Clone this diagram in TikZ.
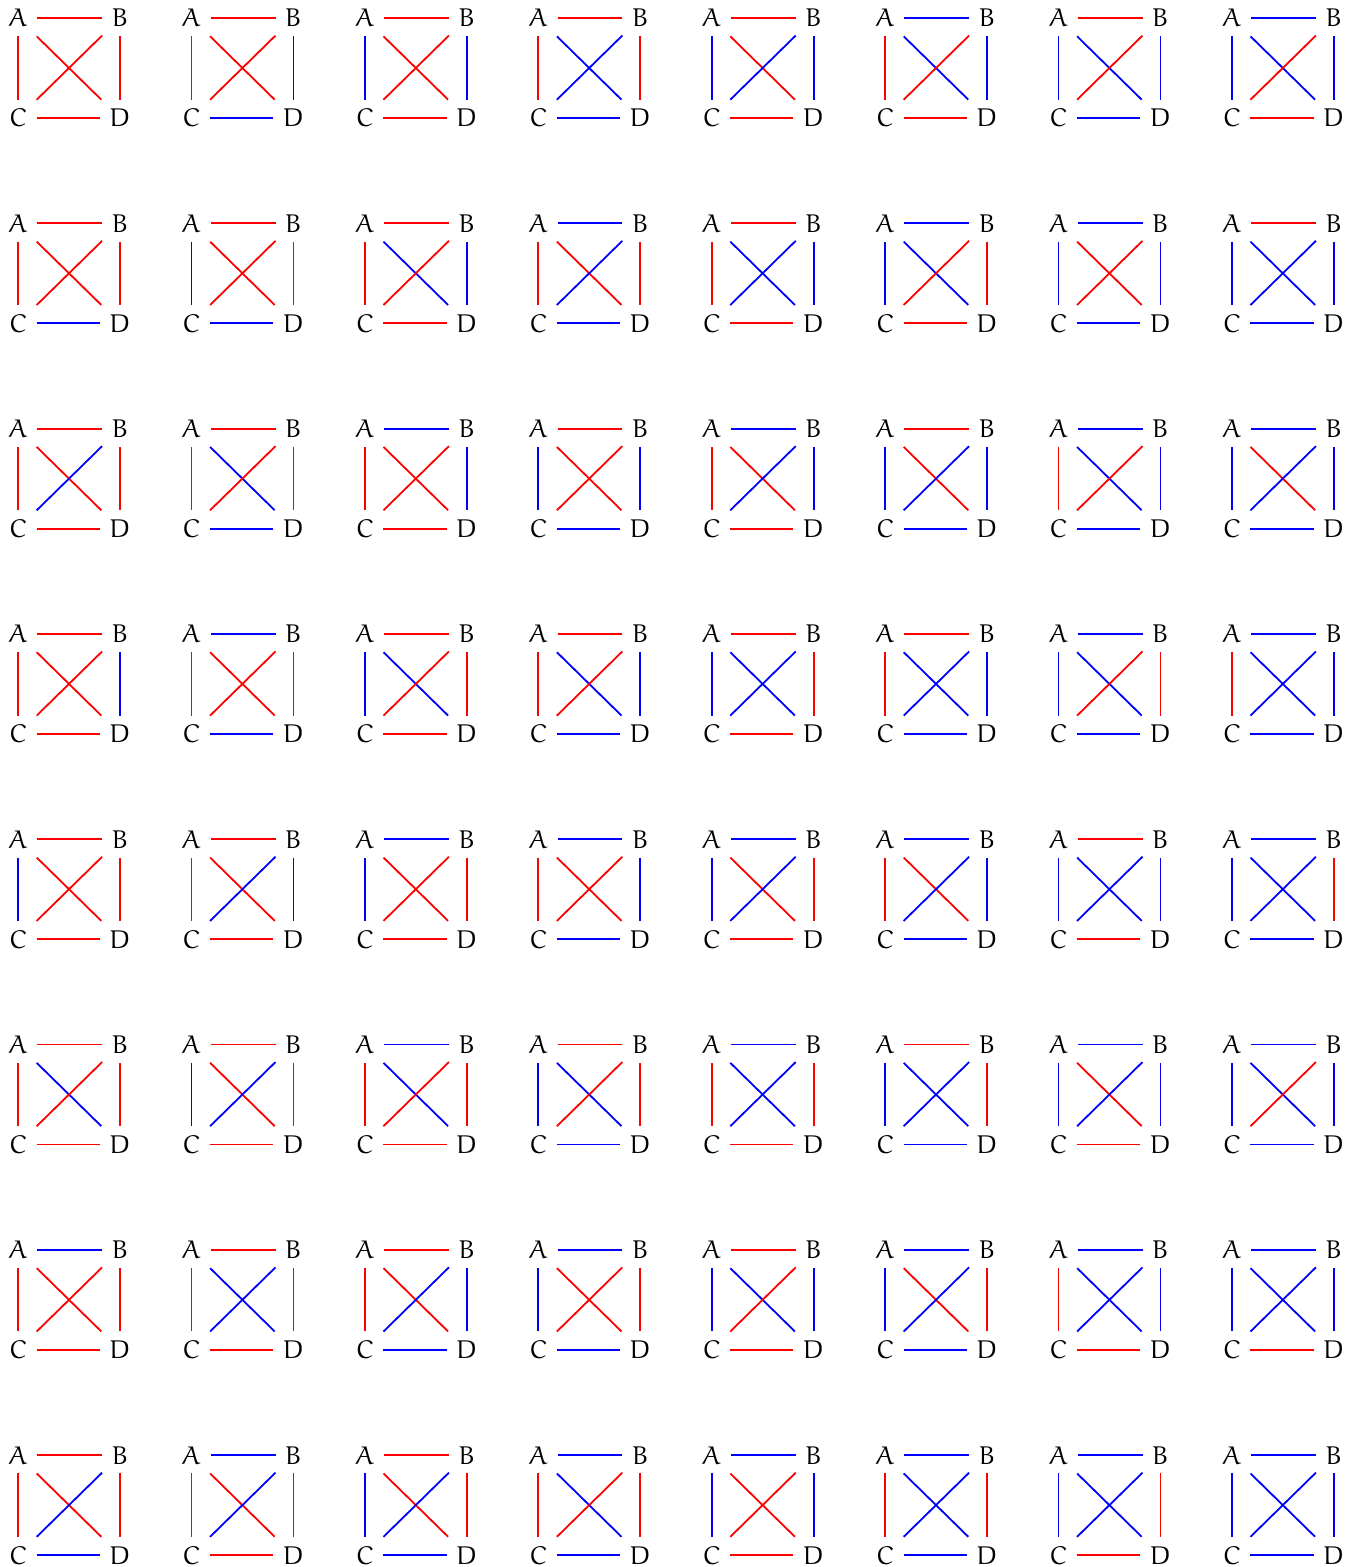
\documentclass[tikz,border=0pt]{standalone}
\usepackage{tikz}

% Euler roman letters for the vertex labels
\font\eulerfnt=eurm10

\tikzset{
  r/.style={red},
  b/.style={blue},
  vertex/.style={font=\eulerfnt}
}

\begin{document}
\begin{tikzpicture}[x=0.389pt,y=-0.389pt,line width=0.7pt]
    % Fix the page size
    \useasboundingbox (0,0) rectangle (1362,1567);

    % All 2-colourings of K4, edges AB/AC/BD/CD/AD/BC
    \foreach \ab/\ac/\bd/\cd/\ad/\bc [count=\i from 0] in {
        r/r/r/r/r/r, r/r/b/b/r/r, r/b/b/r/r/r, r/r/r/b/b/b,
        r/b/b/r/r/b, b/r/b/r/b/r, r/b/b/b/b/r, b/b/b/r/b/r,
        r/r/r/b/r/r, r/b/r/b/r/r, r/r/b/r/b/r, b/r/r/b/r/b,
        r/r/b/r/b/b, b/b/r/r/b/r, b/b/b/b/r/r, r/b/b/b/b/b,
        r/r/r/r/r/b, r/r/r/b/b/r, b/r/b/r/r/r, r/b/b/b/r/r,
        b/r/b/r/r/b, r/b/b/b/r/b, b/r/b/b/b/r, b/b/b/b/r/b,
        r/r/b/r/r/r, b/r/r/b/r/r, r/b/r/r/b/r, r/r/b/b/b/r,
        r/b/r/r/b/b, r/r/b/b/b/b, b/b/r/b/b/r, b/r/b/b/b/b,
        r/b/r/r/r/r, r/r/b/r/r/b, b/b/r/r/r/r, b/r/b/b/r/r,
        b/b/r/r/r/b, b/r/b/b/r/b, r/b/b/r/b/b, b/b/r/b/b/b,
        r/r/r/r/b/r, r/b/r/r/r/b, b/r/r/r/b/r, r/b/r/b/b/r,
        b/r/r/r/b/b, r/b/r/b/b/b, b/b/b/r/r/b, b/b/b/b/b/r,
        b/r/r/r/r/r, r/r/r/r/b/b, r/r/b/b/r/b, b/b/r/b/r/r,
        r/b/b/r/b/r, b/b/r/b/r/b, b/r/b/r/b/b, b/b/b/r/b/b,
        r/r/r/b/r/b, b/r/r/r/r/b, r/b/r/b/r/b, b/r/r/b/b/r,
        b/b/b/r/r/r, b/r/r/b/b/b, b/b/r/r/b/b, b/b/b/b/b/b}
    {
        \pgfmathsetmacro\xo{18+173.4*mod(\i,8)}
        \pgfmathsetmacro\yo{18+205.3*div(\i,8)}
        \begin{scope}[shift={(\xo,\yo)}]
            % Vertices
            \node[vertex] (A\i) at (0,0) {A};
            \node[vertex] (B\i) at (102,0) {B};
            \node[vertex] (C\i) at (0,100) {C};
            \node[vertex] (D\i) at (102,100) {D};

            % Edges
            \draw[\ab] (A\i) -- (B\i);
            \draw[\ac] (A\i) -- (C\i);
            \draw[\bd] (B\i) -- (D\i);
            \draw[\cd] (C\i) -- (D\i);
            \draw[\ad] (A\i) -- (D\i);
            \draw[\bc] (B\i) -- (C\i);
        \end{scope}
    }
\end{tikzpicture}
\end{document}
